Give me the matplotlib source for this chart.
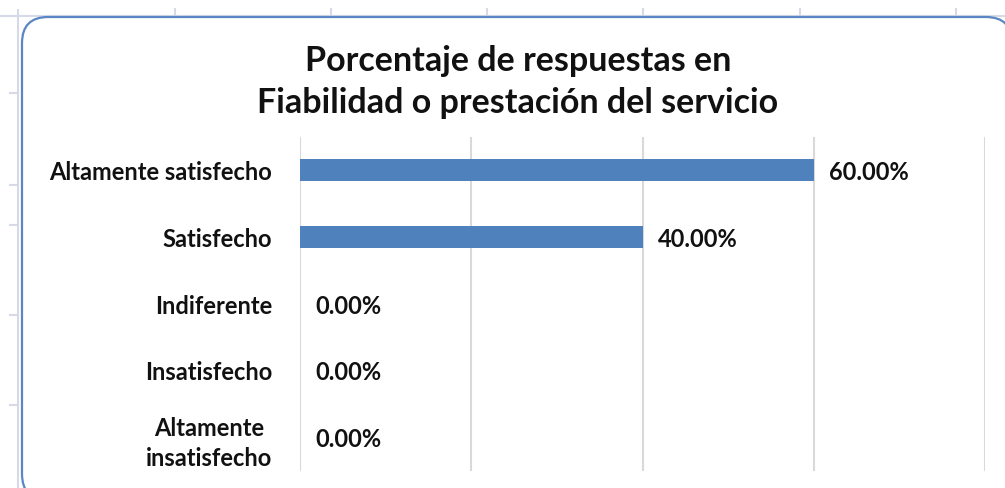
import matplotlib
matplotlib.use("Agg")
import matplotlib.pyplot as plt
from matplotlib.patches import FancyBboxPatch
from matplotlib.lines import Line2D

# data
categorias = ["Altamente satisfecho", "Satisfecho", "Indiferente",
              "Insatisfecho", "Altamente\ninsatisfecho"]
porcentajes = [0.60, 0.40, 0.0, 0.0, 0.0]
titulo = "Porcentaje de respuestas en\nFiabilidad o prestación del servicio"

plt.rcParams['font.family'] = ['Lato', 'DejaVu Sans']
plt.rcParams['font.weight'] = 'bold'

W, H = 1005, 488
fig = plt.figure(figsize=(W / 100, H / 100), dpi=100)
fig.patch.set_facecolor("white")


def fx(px):
    return px / W


def fy(py):
    return 1 - py / H


# spreadsheet grid behind the chart
sheet = "#D6DAE6"
fig.add_artist(Line2D([0, 1], [fy(16), fy(16)], color=sheet, lw=1.5, zorder=-3))
fig.add_artist(Line2D([fx(18), fx(18)], [fy(10), 0], color=sheet, lw=1.5, zorder=-3))
for x in [175, 331, 487, 643, 800, 956]:
    fig.add_artist(Line2D([fx(x), fx(x)], [fy(9), fy(16)], color=sheet, lw=1.5, zorder=-3))
for y in [93, 185, 225, 315, 405]:
    fig.add_artist(Line2D([fx(10), fx(18)], [fy(y), fy(y)], color=sheet, lw=1.5, zorder=-3))

# rounded chart border
border = FancyBboxPatch((fx(22), fy(500)), fx(1012) - fx(22), fy(17) - fy(500),
                        boxstyle="round,pad=0,rounding_size=0.026",
                        transform=fig.transFigure, facecolor="white",
                        edgecolor="#5B86C5", lw=1.6, mutation_aspect=W / H,
                        zorder=-2)
fig.add_artist(border)

ax = fig.add_axes([fx(300), fy(471), fx(985) - fx(300), fy(137) - fy(471)])
ax.set_facecolor("none")
ypos = list(range(len(categorias)))
ax.barh(ypos, porcentajes, height=0.33, color="#4F81BD", zorder=3)
ax.set_xlim(0, 0.8)
ax.set_ylim(len(categorias) - 0.5, -0.5)
ax.set_xticks([0, 0.2, 0.4, 0.6, 0.8])
ax.xaxis.grid(True, color="#D9D9D9", lw=1.5)
ax.tick_params(axis="x", length=0, labelbottom=False)
ax.tick_params(axis="y", length=0, pad=20)
ax.set_yticks(ypos)
ax.set_yticklabels(categorias, fontsize=17, fontweight="bold",
                   multialignment="center", linespacing=1.4,
                   color="#111111")
for s in ax.spines.values():
    s.set_visible(False)

for y, v in zip(ypos, porcentajes):
    ax.annotate(f"{v * 100:.2f}%", (v, y), xytext=(11, -1.5),
                textcoords="offset points", va="center", ha="left",
                fontsize=17, fontweight="bold", color="#111111")

fig.text(fx(518), fy(82), titulo, ha="center", va="center",
         fontsize=24.5, fontweight="bold", linespacing=1.38, color="#111111")

fig.savefig("out.png", dpi=100)
